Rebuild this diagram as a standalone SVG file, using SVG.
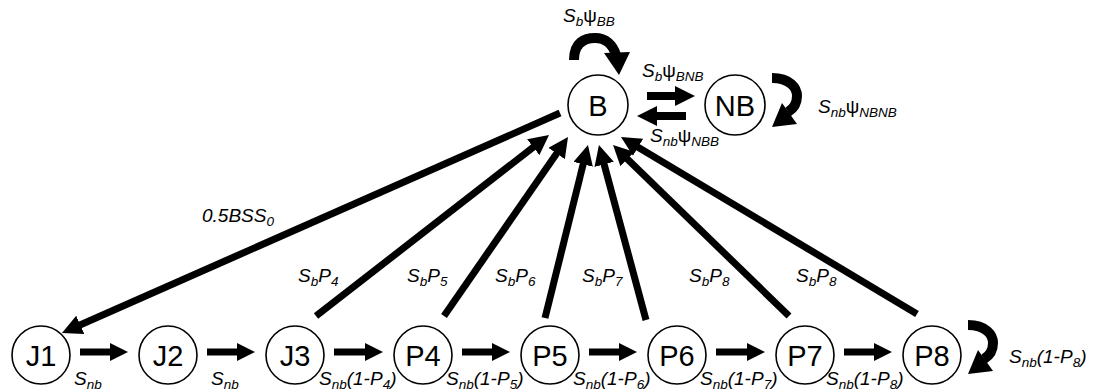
<svg xmlns="http://www.w3.org/2000/svg" width="1094" height="391" viewBox="0 0 1094 391">
<style>
.node circle{fill:#fff;stroke:#000;stroke-width:1.6}
.node text{font-family:"Liberation Sans",Arial,sans-serif;font-size:29px;text-anchor:middle;fill:#000}
.ln{stroke:#000;stroke-width:7;fill:none}
.hz{stroke:#000;stroke-width:7;fill:none}
.loop{stroke:#000;stroke-width:10;fill:none}
.lb{font-family:"Liberation Sans",Arial,sans-serif;font-size:19px;font-style:italic;fill:#000}
.sub{font-size:13.5px}
.up{font-style:normal}
</style>
<defs>
<marker id="big" markerUnits="userSpaceOnUse" markerWidth="20" markerHeight="20" refX="4" refY="10" orient="auto">
<path d="M0,0 L20,10 L0,20 z" fill="#000"/>
</marker>
<marker id="sm" markerUnits="userSpaceOnUse" markerWidth="18" markerHeight="18" refX="4" refY="9" orient="auto">
<path d="M0,0 L18,9 L0,18 z" fill="#000"/>
</marker>
</defs>
<rect width="1094" height="391" fill="#fff"/>
<g id="connectors">
<line class="ln" x1="560" y1="113" x2="76.6" y2="326.5" marker-end="url(#big)"/>
<line class="ln" x1="316" y1="316" x2="536.4" y2="144.8" marker-end="url(#big)"/>
<line class="ln" x1="444" y1="316" x2="558.9" y2="150.2" marker-end="url(#big)"/>
<line class="ln" x1="545" y1="318" x2="584.1" y2="160.5" marker-end="url(#big)"/>
<line class="ln" x1="646" y1="320" x2="603.1" y2="160.5" marker-end="url(#big)"/>
<line class="ln" x1="789" y1="316" x2="624.5" y2="156.2" marker-end="url(#big)"/>
<line class="ln" x1="917" y1="314" x2="634.7" y2="145.2" marker-end="url(#big)"/>
<line class="hz" x1="80" y1="352" x2="114" y2="352" marker-end="url(#sm)"/>
<line class="hz" x1="207" y1="352" x2="241" y2="352" marker-end="url(#sm)"/>
<line class="hz" x1="334" y1="352" x2="369" y2="352" marker-end="url(#sm)"/>
<line class="hz" x1="462" y1="352" x2="496" y2="352" marker-end="url(#sm)"/>
<line class="hz" x1="589" y1="352" x2="623" y2="352" marker-end="url(#sm)"/>
<line class="hz" x1="716" y1="352" x2="751" y2="352" marker-end="url(#sm)"/>
<line class="hz" x1="844" y1="352" x2="878" y2="352" marker-end="url(#sm)"/>
<line class="hz" style="stroke-width:8" x1="647" y1="96" x2="679" y2="96" marker-end="url(#big)"/>
<line class="hz" style="stroke-width:8" x1="686" y1="116" x2="653" y2="116" marker-end="url(#big)"/>
<path class="loop" d="M574 60 C574 42 585 38 595 38 C606 38 613 45 616 55"/>
<polygon points="604,53 630,52 619,75" fill="#000"/>
<g id="loopNB">
<path class="loop" d="M772 78 C790 78 797 88 797 96 C797 104 793 109 788 112"/>
<polygon points="782,103 797,124 772,127" fill="#000"/>
</g>
<g transform="translate(196,247)">
<path class="loop" d="M772 78 C790 78 797 88 797 96 C797 104 793 109 788 112"/>
<polygon points="782,103 797,124 772,127" fill="#000"/>
</g>
</g>
<g id="B" class="node"><circle cx="598" cy="105" r="30"/><text x="598" y="115.5">B</text></g>
<g id="NB" class="node"><circle cx="735" cy="105" r="30"/><text x="735" y="115.5">NB</text></g>
<g id="J1" class="node"><circle cx="41" cy="355" r="29"/><text x="41" y="365.5">J1</text></g>
<g id="J2" class="node"><circle cx="168" cy="355" r="29"/><text x="168" y="365.5">J2</text></g>
<g id="J3" class="node"><circle cx="295" cy="355" r="29"/><text x="295" y="365.5">J3</text></g>
<g id="P4" class="node"><circle cx="423" cy="355" r="29"/><text x="423" y="365.5">P4</text></g>
<g id="P5" class="node"><circle cx="550" cy="355" r="29"/><text x="550" y="365.5">P5</text></g>
<g id="P6" class="node"><circle cx="677" cy="355" r="29"/><text x="677" y="365.5">P6</text></g>
<g id="P7" class="node"><circle cx="805" cy="355" r="29"/><text x="805" y="365.5">P7</text></g>
<g id="P8" class="node"><circle cx="932" cy="355" r="29"/><text x="932" y="365.5">P8</text></g>
<g id="labels">
<text class="lb" x="563" y="22">S<tspan class="sub" dy="4">b</tspan><tspan class="up" dy="-4">ψ</tspan><tspan class="sub" dy="4">BB</tspan></text>
<text class="lb" x="642" y="77">S<tspan class="sub" dy="4">b</tspan><tspan class="up" dy="-4">ψ</tspan><tspan class="sub" dy="4">BNB</tspan></text>
<text class="lb" x="650" y="142">S<tspan class="sub" dy="4">nb</tspan><tspan class="up" dy="-4">ψ</tspan><tspan class="sub" dy="4">NBB</tspan></text>
<text class="lb" x="818" y="113">S<tspan class="sub" dy="4">nb</tspan><tspan class="up" dy="-4">ψ</tspan><tspan class="sub" dy="4">NBNB</tspan></text>
<text class="lb" x="202" y="222">0.5BSS<tspan class="sub" dy="4">0</tspan></text>
<text class="lb" x="298" y="282">S<tspan class="sub" dy="4">b</tspan><tspan dy="-4">P</tspan><tspan class="sub" dy="4">4</tspan></text>
<text class="lb" x="407" y="282">S<tspan class="sub" dy="4">b</tspan><tspan dy="-4">P</tspan><tspan class="sub" dy="4">5</tspan></text>
<text class="lb" x="495" y="282">S<tspan class="sub" dy="4">b</tspan><tspan dy="-4">P</tspan><tspan class="sub" dy="4">6</tspan></text>
<text class="lb" x="582" y="282">S<tspan class="sub" dy="4">b</tspan><tspan dy="-4">P</tspan><tspan class="sub" dy="4">7</tspan></text>
<text class="lb" x="689" y="282">S<tspan class="sub" dy="4">b</tspan><tspan dy="-4">P</tspan><tspan class="sub" dy="4">8</tspan></text>
<text class="lb" x="796" y="282">S<tspan class="sub" dy="4">b</tspan><tspan dy="-4">P</tspan><tspan class="sub" dy="4">8</tspan></text>
<text class="lb" x="74" y="385">S<tspan class="sub" dy="4">nb</tspan></text>
<text class="lb" x="211" y="385">S<tspan class="sub" dy="4">nb</tspan></text>
<text class="lb" x="319" y="385">S<tspan class="sub" dy="4">nb</tspan><tspan dy="-4">(1-P</tspan><tspan class="sub" dy="4">4</tspan><tspan dy="-4">)</tspan></text>
<text class="lb" x="446" y="385">S<tspan class="sub" dy="4">nb</tspan><tspan dy="-4">(1-P</tspan><tspan class="sub" dy="4">5</tspan><tspan dy="-4">)</tspan></text>
<text class="lb" x="573" y="385">S<tspan class="sub" dy="4">nb</tspan><tspan dy="-4">(1-P</tspan><tspan class="sub" dy="4">6</tspan><tspan dy="-4">)</tspan></text>
<text class="lb" x="700" y="385">S<tspan class="sub" dy="4">nb</tspan><tspan dy="-4">(1-P</tspan><tspan class="sub" dy="4">7</tspan><tspan dy="-4">)</tspan></text>
<text class="lb" x="826" y="385">S<tspan class="sub" dy="4">nb</tspan><tspan dy="-4">(1-P</tspan><tspan class="sub" dy="4">8</tspan><tspan dy="-4">)</tspan></text>
<text class="lb" x="1009" y="363">S<tspan class="sub" dy="4">nb</tspan><tspan dy="-4">(1-P</tspan><tspan class="sub" dy="4">8</tspan><tspan dy="-4">)</tspan></text>
</g>
</svg>
